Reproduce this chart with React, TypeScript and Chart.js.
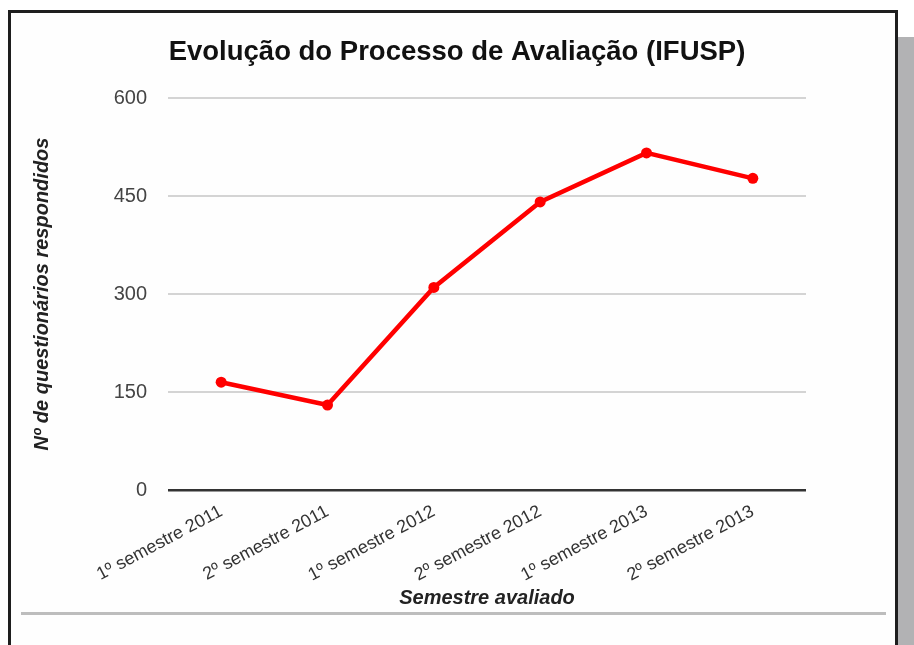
import React, { useEffect, useRef } from 'react';
import { Chart, registerables } from 'chart.js';

Chart.register(...registerables);

const categories = [
  '1º semestre 2011',
  '2º semestre 2011',
  '1º semestre 2012',
  '2º semestre 2012',
  '1º semestre 2013',
  '2º semestre 2013',
];
const responses = [165, 130, 310, 441, 516, 477];
const yTicks = [0, 150, 300, 450, 600];
const chartTitle = 'Evolução do Processo de Avaliação (IFUSP)';
const xTitle = 'Semestre avaliado';
const yTitle = 'Nº de questionários respondidos';

const FONT = "'Liberation Sans', Arial, sans-serif";

export default function App() {
  const canvasRef = useRef<HTMLCanvasElement | null>(null);

  useEffect(() => {
    if (!canvasRef.current) return;
    const chart = new Chart(canvasRef.current, {
      type: 'line',
      data: {
        labels: categories,
        datasets: [
          {
            data: responses,
            borderColor: '#ff0000',
            backgroundColor: '#ff0000',
            borderWidth: 4.5,
            pointRadius: 5.5,
            pointBackgroundColor: '#ff0000',
            pointBorderColor: '#ff0000',
            pointBorderWidth: 0,
            tension: 0,
            fill: false,
          },
        ],
      },
      options: {
        animation: false,
        responsive: false,
        maintainAspectRatio: false,
        layout: { padding: 0 },
        plugins: {
          legend: { display: false },
          tooltip: { enabled: false },
          title: {
            display: true,
            text: chartTitle,
            color: '#111111',
            font: { family: FONT, size: 27.5, weight: 'bold' },
            padding: { top: 36, bottom: 29 },
          },
        },
        scales: {
          x: {
            type: 'category',
            offset: true,
            grid: { display: false },
            border: { display: false },
            ticks: {
              color: '#333333',
              font: { family: FONT, size: 18 },
              minRotation: 28,
              maxRotation: 28,
              padding: 3,
            },
            title: {
              display: true,
              text: xTitle,
              color: '#222222',
              font: { family: FONT, size: 20, weight: 'bold', style: 'italic' },
              padding: { top: 0, bottom: 35 },
            },
            afterFit: (s: any) => {
              s.height = 155;
            },
          },
          y: {
            type: 'linear',
            min: 0,
            max: 600,
            afterBuildTicks: (s: any) => {
              s.ticks = yTicks.map((v) => ({ value: v }));
            },
            grid: {
              drawTicks: false,
              color: (c: any) => (c.tick && c.tick.value === 0 ? '#333333' : '#d4d4d4'),
              lineWidth: (c: any) => (c.tick && c.tick.value === 0 ? 2.5 : 2),
            },
            border: { display: false },
            ticks: {
              padding: 21,
              color: '#444444',
              font: { family: FONT, size: 20 },
            },
            title: {
              display: true,
              text: yTitle,
              color: '#222222',
              font: { family: FONT, size: 20, weight: 'bold', style: 'italic' },
              padding: { top: 30, bottom: 0 },
            },
            afterFit: (s: any) => {
              s.width = 168;
            },
          },
          yRight: {
            type: 'linear',
            position: 'right',
            display: true,
            grid: { display: false },
            border: { display: false },
            ticks: { display: false },
            afterFit: (s: any) => {
              s.width = 108;
            },
          },
        },
      } as any,
    });
    return () => chart.destroy();
  }, []);

  return (
    <div
      style={{
        position: 'fixed',
        left: 0,
        top: 0,
        width: 914,
        height: 645,
        background: '#ffffff',
        overflow: 'hidden',
      }}
    >
      <div
        style={{
          position: 'absolute',
          left: 8,
          top: 10,
          width: 890,
          height: 700,
          boxSizing: 'border-box',
          border: '3px solid #1e1e1e',
          background: '#fefefe',
        }}
      />
      <div
        style={{
          position: 'absolute',
          left: 898,
          top: 37,
          width: 16,
          height: 608,
          background: '#b2b2b4',
        }}
      />
      <div
        style={{
          position: 'absolute',
          left: 21,
          top: 612,
          width: 865,
          height: 3,
          background: '#bdbdbd',
        }}
      />
      <canvas
        ref={canvasRef}
        width={914}
        height={645}
        style={{ position: 'absolute', left: 0, top: 0, display: 'block' }}
      />
    </div>
  );
}
